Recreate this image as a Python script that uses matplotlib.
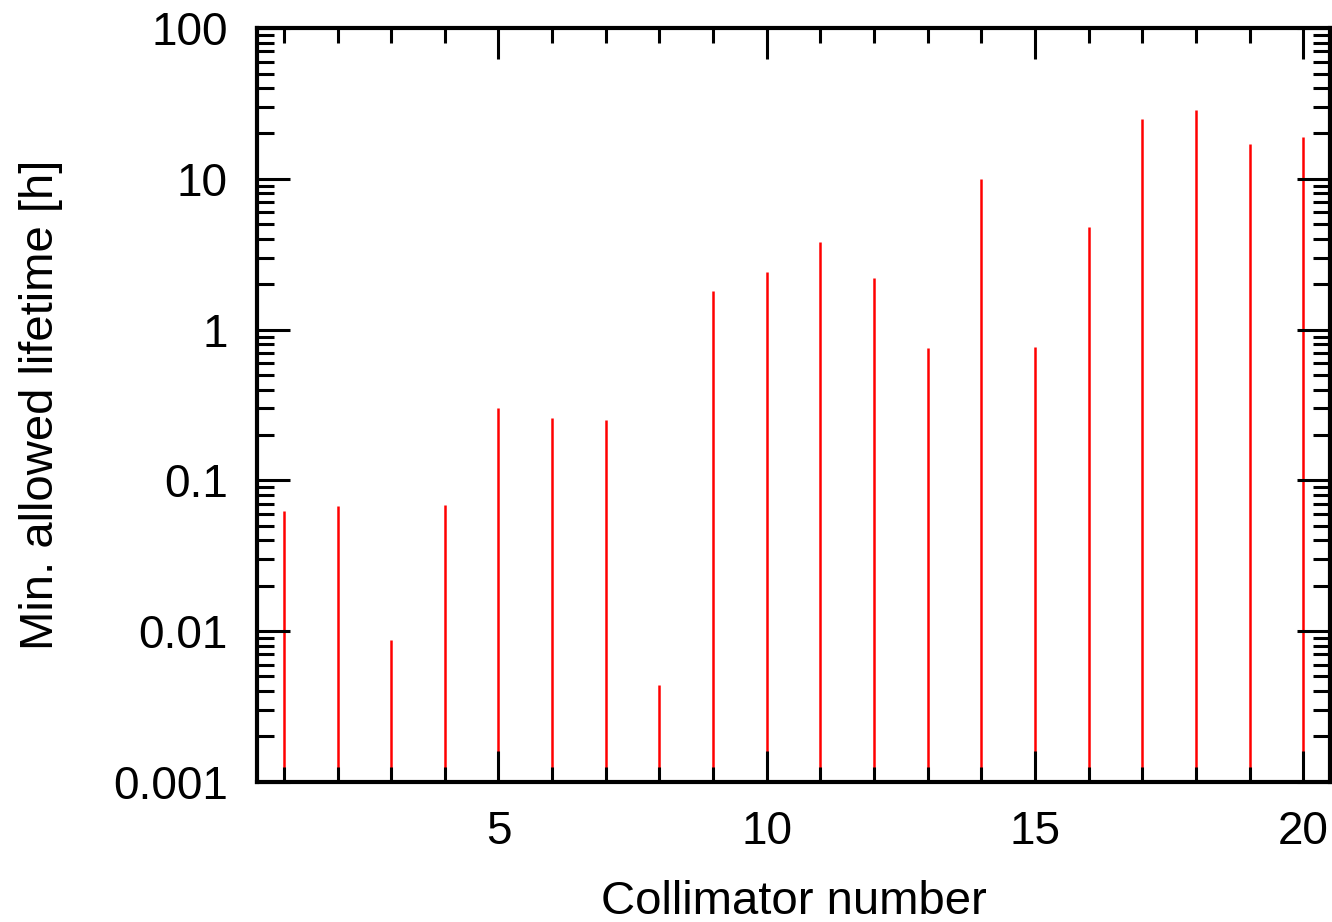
import numpy as np
import matplotlib.pyplot as plt
from matplotlib.ticker import FixedLocator, LogLocator, NullFormatter, FixedFormatter

plt.rcParams['font.family'] = ['Liberation Sans', 'DejaVu Sans']

collimator = np.arange(1, 21)
lifetime = [0.063, 0.068, 0.0087, 0.069, 0.30, 0.26, 0.25, 0.0044, 1.8, 2.4,
            3.8, 2.2, 0.75, 10.0, 0.77, 4.8, 25.0, 28.5, 17.0, 19.0]

ytick_vals = [0.001, 0.01, 0.1, 1, 10, 100]
ytick_labels = ['0.001', '0.01', '0.1', '1', '10', '100']

fig = plt.figure(figsize=(13.32, 9.22), dpi=100)
ax = fig.add_axes([0.193, 0.152, 0.8055, 0.8175])

ax.vlines(collimator, 0.001, lifetime, color='red', linewidth=1.8, zorder=1)

ax.set_yscale('log')
ax.set_xlim(0.5, 20.5)
ax.set_ylim(0.001, 100)

ax.xaxis.set_major_locator(FixedLocator([5, 10, 15, 20]))
ax.xaxis.set_minor_locator(FixedLocator(np.arange(1, 21)))
ax.yaxis.set_major_locator(FixedLocator(ytick_vals))
ax.yaxis.set_major_formatter(FixedFormatter(ytick_labels))
ax.yaxis.set_minor_locator(LogLocator(base=10, subs=np.arange(2, 10), numticks=20))
ax.yaxis.set_minor_formatter(NullFormatter())

ax.tick_params(which='both', direction='in', top=True, right=True,
               labelsize=33, color='black', zorder=3)
ax.tick_params(axis='x', which='major', length=22, width=2.2, pad=20)
ax.tick_params(axis='x', which='minor', length=11, width=2.2)
ax.tick_params(axis='y', which='major', length=24, width=2.2, pad=21)
ax.tick_params(axis='y', which='minor', length=12, width=2.2)

for s in ax.spines.values():
    s.set_linewidth(3)

ax.set_xlabel('Collimator number', fontsize=34, labelpad=19)
ax.set_ylabel('Min. allowed lifetime [h]', fontsize=34, labelpad=36)

fig.savefig('out.png', dpi=100)
